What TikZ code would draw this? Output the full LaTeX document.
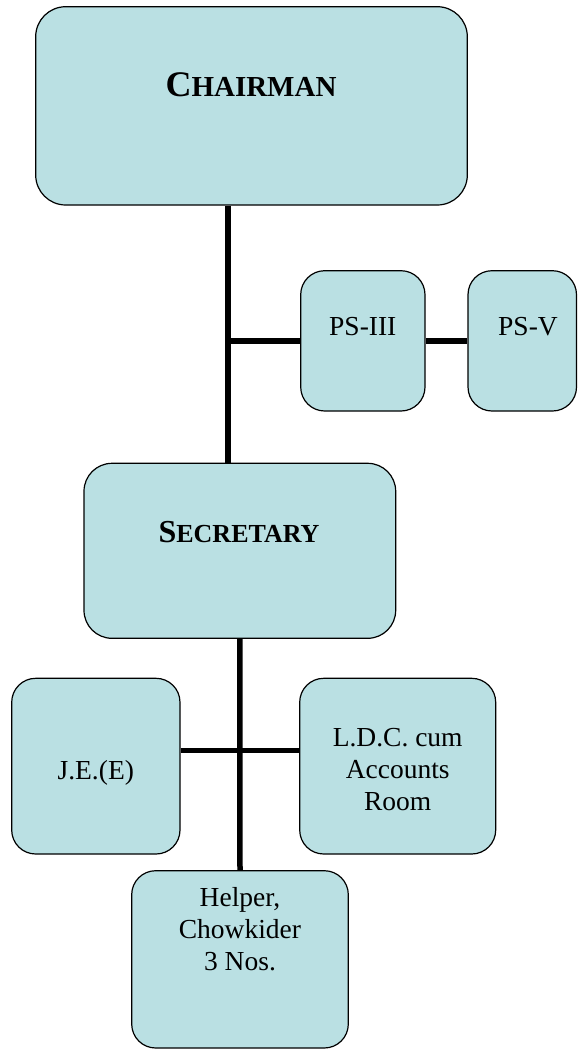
\documentclass[tikz,border=0pt]{standalone}
\usepackage{fontspec}
\setmainfont{Liberation Serif}
\definecolor{boxblue}{RGB}{186,224,227}

\newcommand{\txtfont}{\fontsize{27.5}{32}\selectfont}
\newcommand{\scword}[4]{{\bfseries\fontsize{#1}{#1}\selectfont #3\fontsize{#2}{#2}\selectfont #4}}

\begin{document}
\begin{tikzpicture}[x=1pt,y=-1pt,
  box/.style={draw=black,line width=1.2pt,fill=boxblue,rounded corners=24pt,inner sep=0pt},
  link/.style={draw=black,line width=5.5pt},
  lbl/.style={inner sep=0pt,align=center,font=\txtfont}]
\useasboundingbox (0,0) rectangle (578,1050);

% boxes
\node[box,minimum width=431.6pt,minimum height=198.3pt,rounded corners=30pt] (chair) at (251.5,105.85) {};
\node[box,minimum width=124.3pt,minimum height=140.3pt] (ps3) at (362.85,340.85) {};
\node[box,minimum width=108.5pt,minimum height=140.3pt] (ps5) at (522.25,340.85) {};
\node[box,minimum width=311.7pt,minimum height=175pt,rounded corners=28pt] (sec) at (239.85,550.8) {};
\node[box,minimum width=168.3pt,minimum height=175.7pt] (je) at (95.85,766.15) {};
\node[box,minimum width=196pt,minimum height=175.7pt] (ldc) at (397.7,766.15) {};
\node[box,minimum width=216.6pt,minimum height=177.3pt] (helper) at (240,959.35) {};

% texts
\node[lbl,anchor=base] (chairtxt) at (251,96.7) {\scword{36}{29}{C}{HAIRMAN}};
\node[lbl,anchor=base] (ps3txt) at (362.8,335) {PS-III};
\node[lbl,anchor=base] (ps5txt) at (528,335) {PS-V};
\node[lbl,anchor=base] (sectxt) at (239,542.7) {\scword{32}{26}{S}{ECRETARY}};
\node[lbl,anchor=base] (jetxt) at (95.8,779) {J.E.(E)};
\node[lbl,anchor=north] (ldctxt) at (397.7,728.3) {L.D.C. cum\\Accounts\\Room};
\node[lbl,anchor=north] (helptxt) at (240,887.3) {Helper,\\Chowkider\\3 Nos.};

% connectors
\coordinate (upper) at (228,340.85);
\coordinate (lower) at (240,750.7);
\draw[link] (upper |- chair.south) -- (upper |- sec.north);
\draw[link] (upper) -- (ps3.west);
\draw[link] (ps3.east) -- (ps5.west);
\draw[link] (sec.south) -- (helper.north);
\draw[link] (je.east |- lower) -- (ldc.west |- lower);

\end{tikzpicture}
\end{document}
